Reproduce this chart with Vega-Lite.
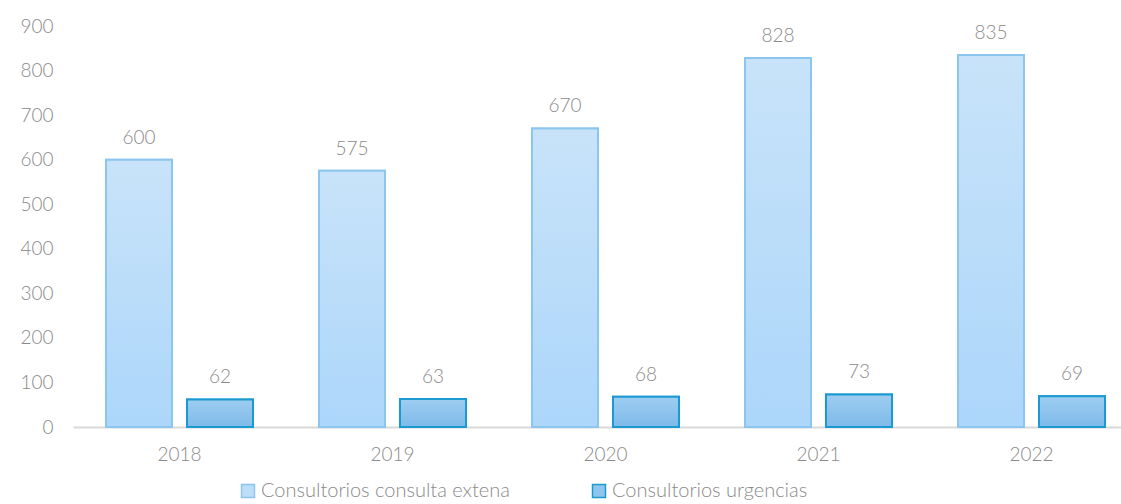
{
  "$schema": "https://vega.github.io/schema/vega-lite/v6.json",
  "autosize": "none",
  "padding": {"left": 73, "top": 26, "right": 0, "bottom": 77},
  "width": 1048,
  "height": 401,
  "background": "white",
  "config": {
    "view": {"stroke": null},
    "font": "Lato",
    "axis": {"labelFont": "Lato", "labelFontWeight": 300, "labelColor": "#8a8a8a", "labelFontSize": 19, "grid": false, "ticks": false, "title": null}
  },
  "data": {
    "values": [
      {"year": "2018", "serie": "Consultorios consulta extena", "value": 600},
      {"year": "2018", "serie": "Consultorios urgencias", "value": 62},
      {"year": "2019", "serie": "Consultorios consulta extena", "value": 575},
      {"year": "2019", "serie": "Consultorios urgencias", "value": 63},
      {"year": "2020", "serie": "Consultorios consulta extena", "value": 670},
      {"year": "2020", "serie": "Consultorios urgencias", "value": 68},
      {"year": "2021", "serie": "Consultorios consulta extena", "value": 828},
      {"year": "2021", "serie": "Consultorios urgencias", "value": 73},
      {"year": "2022", "serie": "Consultorios consulta extena", "value": 835},
      {"year": "2022", "serie": "Consultorios urgencias", "value": 69}
    ]
  },
  "encoding": {
    "x": {
      "field": "year", "type": "nominal",
      "scale": {"range": [0, 1065], "paddingInner": 0.31, "paddingOuter": 0.155},
      "axis": {"labelAngle": 0, "domain": true, "domainColor": "#d9d9d9", "domainWidth": 2, "labelPadding": 18}
    },
    "xOffset": {"field": "serie", "type": "nominal", "scale": {"paddingInner": 0.185, "paddingOuter": 0}},
    "y": {
      "field": "value", "type": "quantitative",
      "scale": {"domain": [0, 900], "nice": false},
      "axis": {"values": [0, 100, 200, 300, 400, 500, 600, 700, 800, 900], "domain": false, "labelPadding": 20}
    }
  },
  "layer": [
    {
      "mark": {"type": "bar", "strokeWidth": 2},
      "encoding": {
        "fill": {
          "field": "serie", "type": "nominal",
          "scale": {"domain": ["Consultorios consulta extena", "Consultorios urgencias"], "range": ["#bcdef8", "#8fc4ee"]},
          "legend": {
            "orient": "none", "legendX": 165, "legendY": 455, "direction": "horizontal", "title": null,
            "symbolType": "square", "symbolSize": 169, "symbolStrokeWidth": 1.5,
            "labelFont": "Lato", "labelFontWeight": 300, "labelFontSize": 20, "labelColor": "#8a8a8a", "labelOffset": 3,
            "columnPadding": 79, "labelLimit": 400
          }
        },
        "stroke": {
          "field": "serie", "type": "nominal",
          "scale": {"domain": ["Consultorios consulta extena", "Consultorios urgencias"], "range": ["#8cc6ee", "#1a9ad0"]}
        }
      }
    },
    {
      "transform": [{"filter": "datum.serie === 'Consultorios consulta extena'"}],
      "mark": {
        "type": "bar", "strokeWidth": 2, "stroke": "#8cc6ee",
        "fill": {"gradient": "linear", "x1": 0, "y1": 0, "x2": 0, "y2": 1,
          "stops": [{"offset": 0, "color": "#c8e3f9"}, {"offset": 1, "color": "#acd6fa"}]}
      }
    },
    {
      "transform": [{"filter": "datum.serie === 'Consultorios urgencias'"}],
      "mark": {
        "type": "bar", "strokeWidth": 2, "stroke": "#1a9ad0",
        "fill": {"gradient": "linear", "x1": 0, "y1": 0, "x2": 0, "y2": 1,
          "stops": [{"offset": 0, "color": "#9ecdf0"}, {"offset": 1, "color": "#7ebaea"}]}
      }
    },
    {
      "mark": {"type": "text", "baseline": "bottom", "dy": -12, "fontSize": 19, "fontWeight": 300, "color": "#8a8a8a", "font": "Lato"},
      "encoding": {"text": {"field": "value", "type": "quantitative"}}
    }
  ]
}
